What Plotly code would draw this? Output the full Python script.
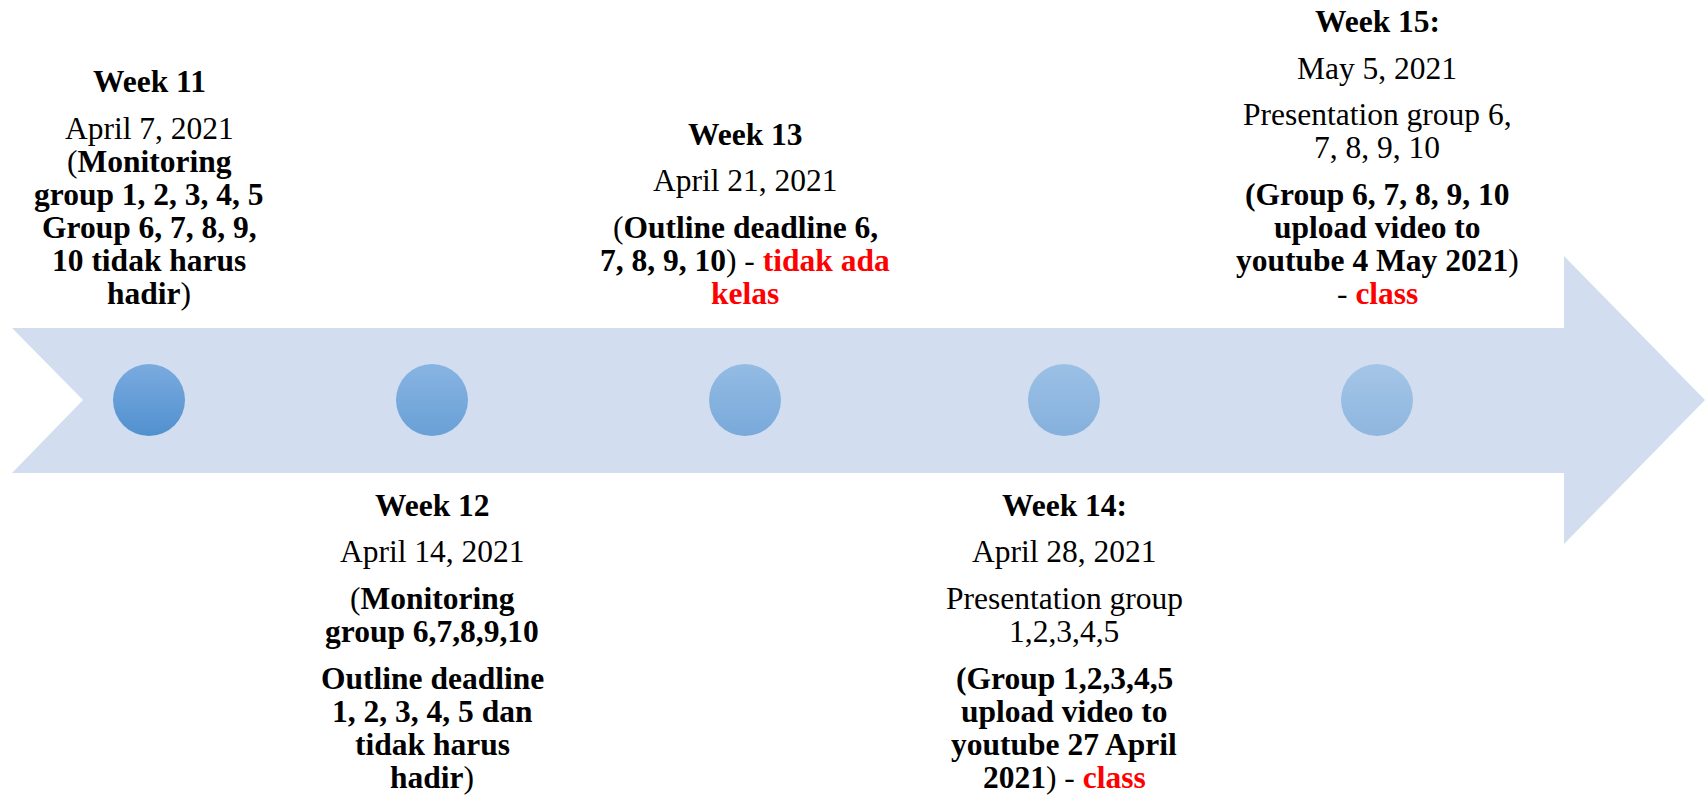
import plotly.graph_objects as go

# ---- data ----
weeks = ["Week 11", "Week 12", "Week 13", "Week 14:", "Week 15:"]
dates = ["April 7, 2021", "April 14, 2021", "April 21, 2021", "April 28, 2021", "May 5, 2021"]
event_x = [149, 432, 745, 1064, 1377]
sides = ["top", "bottom", "top", "bottom", "top"]

RED = "<span style='color:#ff0000'><b>{}</b></span>"
# each event: list of paragraphs (after heading); the date opens the first paragraph
details = [
    [["(<b>Monitoring</b>", "<b>group 1, 2, 3, 4, 5</b>", "<b>Group 6, 7, 8, 9,</b>",
      "<b>10 tidak harus</b>", "<b>hadir</b>)"]],
    [[], ["(<b>Monitoring</b>", "<b>group 6,7,8,9,10</b>"],
     ["<b>Outline deadline</b>", "<b>1, 2, 3, 4, 5 dan</b>", "<b>tidak harus</b>", "<b>hadir</b>)"]],
    [[], ["(<b>Outline deadline 6,</b>", "<b>7, 8, 9, 10</b>) - " + RED.format("tidak ada"),
          RED.format("kelas")]],
    [[], ["Presentation group", "1,2,3,4,5"],
     ["<b>(Group 1,2,3,4,5</b>", "<b>upload video to</b>", "<b>youtube 27 April</b>",
      "<b>2021</b>) - " + RED.format("class")]],
    [[], ["Presentation group 6,", "7, 8, 9, 10"],
     ["<b>(Group 6, 7, 8, 9, 10</b>", "<b>upload video to</b>", "<b>youtube 4 May 2021</b>)",
      "- " + RED.format("class")]],
]

# ---- layout constants ----
W, H = 1705, 795
BAND_TOP, BAND_BOT, MID = 328, 473, 400
NOTCH_L, NOTCH_IN = 12, 83
HEAD_X, HEAD_TOP, HEAD_BOT, TIP_X = 1564, 256, 544, 1705
LINE, PARA = 33.0, 46.8
TOP_LAST, BOT_FIRST = 293.6, 505
FONT = "Liberation Serif, Times New Roman, serif"
FS = 31.5

top_colors = ["#7aabdf", "#88b4e2", "#93bbe4", "#9bc0e5", "#a4c5e7"]
bot_colors = ["#5190cf", "#69a0d6", "#79a9da", "#85b0dd", "#8fb6df"]

fig = go.Figure()

band = (f"M {NOTCH_L},{BAND_TOP} L {HEAD_X},{BAND_TOP} L {HEAD_X},{HEAD_TOP} "
        f"L {TIP_X},{MID} L {HEAD_X},{HEAD_BOT} L {HEAD_X},{BAND_BOT} "
        f"L {NOTCH_L},{BAND_BOT} L {NOTCH_IN},{MID} Z")
fig.add_shape(type="path", path=band, fillcolor="#d2deef", line=dict(width=0),
              layer="below", xref="x", yref="y")

fig.add_trace(go.Scatter(
    x=event_x, y=[MID] * len(event_x), mode="markers",
    marker=dict(size=72, color=top_colors, line=dict(width=0),
                gradient=dict(type="vertical", color=bot_colors)),
    hoverinfo="skip", showlegend=False))

annotations = []
for i in range(len(weeks)):
    lines = []  # (text, offset)
    y = 0.0
    lines.append(("<b>" + weeks[i] + "</b>", y))
    y += PARA
    paras = details[i]
    first = [dates[i]] + paras[0]
    for j, ln in enumerate(first):
        if j > 0:
            y += LINE
        lines.append((ln, y))
    for p in paras[1:]:
        for j, ln in enumerate(p):
            y += PARA if j == 0 else LINE
            lines.append((ln, y))
    shift = TOP_LAST - y if sides[i] == "top" else BOT_FIRST
    for txt, off in lines:
        annotations.append(dict(x=event_x[i], y=off + shift, xref="x", yref="y",
                                text=txt, showarrow=False, xanchor="center",
                                yanchor="middle",
                                font=dict(family=FONT, size=FS, color="#000000")))

fig.update_layout(
    width=W, height=H, margin=dict(l=0, r=0, t=0, b=0),
    paper_bgcolor="white", plot_bgcolor="white",
    xaxis=dict(range=[0, W], visible=False, fixedrange=True),
    yaxis=dict(range=[H, 0], visible=False, fixedrange=True),
    annotations=annotations, showlegend=False)

fig.write_html("out.html", config={"displayModeBar": False},
               post_script="document.body.style.margin='0';document.body.style.overflow='hidden';")
